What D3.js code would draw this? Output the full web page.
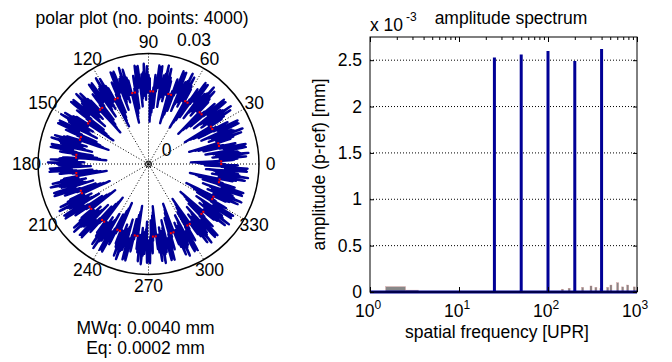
<!DOCTYPE html>
<html>
<head>
<meta charset="utf-8">
<script src="https://cdn.jsdelivr.net/npm/d3@7"></script>
<style>
body { margin: 0; background: #fff; }
svg text { font-family: "Liberation Sans", Arial, sans-serif; fill: #000; }
</style>
</head>
<body>
<div id="chart"></div>
<script>
// spectrum peaks (UPR) and their amplitudes in mm
const peakFreq = [25, 50, 100, 200, 400];
const peakAmp = [0.00253, 0.00256, 0.00260, 0.00249, 0.00262];
// phases guessed from the shape of the petals in the polar plot
const peakPhase = [0, Math.PI, 2 * Math.PI / 3, 0, Math.PI / 2];

// grey residual bars of the spectrum
const restFreq = [2, 3, 4, 6, 10, 16, 142, 169, 239, 297, 337, 383, 457, 497, 591, 673, 766, 908];
const restAmp = [0.000057, 0.00002, 0.000004, 0.000003, 0.000006, 0.000007, 0.00003, 0.00004, 0.00005,
    0.000065, 0.00005, 0.00004, 0.00005, 0.000075, 0.0001, 0.000055, 0.000075, 0.000055];

const yTicks = [0, 0.0005, 0.001, 0.0015, 0.002, 0.0025];
const xTicks = [1, 10, 100, 1000];
const angleTicks = [0, 30, 60, 90, 120, 150, 180, 210, 240, 270, 300, 330];
const ringTicks = [0, 0.03];

const nPoints = 4000;
const radiusMin = 0.0115, radiusMax = 0.0273;   // band limits
const gapAngle = 1;                              // degrees, first gap between petals
const mwq = "0.0040", eq = "0.0002";

const blue = "#000096";
const fontSize = 17.5;

const svg = d3.select("#chart").append("svg")
    .attr("width", 672)
    .attr("height", 362);

// ---------------- polar plot ----------------
const cx = 148.5, cy = 164, R = 110.5;
const r = d3.scaleLinear().domain([0, ringTicks[ringTicks.length - 1]]).range([0, R]);
const polar = svg.append("g").attr("transform", `translate(${cx},${cy})`);

svg.append("text")
    .attr("x", 142).attr("y", 24)
    .attr("text-anchor", "middle")
    .style("font-size", fontSize + "px")
    .text(`polar plot (no. points: ${nPoints})`);

// spokes
angleTicks.filter(a => a < 180).forEach(a => {
    const t = a * Math.PI / 180;
    polar.append("line")
        .attr("x1", r(0.03) * Math.cos(t)).attr("y1", -r(0.03) * Math.sin(t))
        .attr("x2", -r(0.03) * Math.cos(t)).attr("y2", r(0.03) * Math.sin(t))
        .attr("stroke", "#000").attr("stroke-width", 1)
        .attr("stroke-dasharray", "1,2");
});

polar.append("circle")
    .attr("r", r(0.03))
    .attr("fill", "none").attr("stroke", "#000").attr("stroke-width", 1.5);

// signal rebuilt from the spectrum peaks
const theta = d3.range(nPoints).map(i => 2 * Math.PI * i / nPoints);
const raw = theta.map(t => d3.sum(peakFreq, (f, k) => peakAmp[k] * Math.cos(f * t + peakPhase[k])));
const per = nPoints / peakFreq[0];
const half = Math.round(nPoints / peakFreq[3] / 2);
const upper = i => d3.max(d3.range(i - half, i + half + 1), j => raw[(j + nPoints) % nPoints]);
const gapIdx = d3.minIndex(d3.range(per), i => upper(i));
const rot = gapAngle * Math.PI / 180 - theta[gapIdx];
const rad = d3.scaleLinear().domain(d3.extent(raw)).range([radiusMin, radiusMax]);
const tipR = rad(upper(gapIdx));

const line = d3.lineRadial()
    .curve(d3.curveLinearClosed)
    .angle((d, i) => Math.PI / 2 - (theta[i] + rot))
    .radius(d => r(rad(d)));

polar.append("path")
    .datum(raw)
    .attr("d", line)
    .attr("fill", "none")
    .attr("stroke", blue)
    .attr("stroke-width", 2.3)
    .attr("stroke-linejoin", "round");

// red marks at the gap tips
const marks = [];
d3.range(peakFreq[0]).forEach(k => {
    [-1.1, 1.1].forEach(off => {
        marks.push(theta[gapIdx] + rot + k * 2 * Math.PI / peakFreq[0] + off * Math.PI / 180);
    });
});
polar.selectAll("rect.mark")
    .data(marks)
    .enter()
    .append("rect")
    .attr("class", "mark")
    .attr("x", d => r(tipR) * Math.cos(d) - 1)
    .attr("y", d => -r(tipR) * Math.sin(d) - 1)
    .attr("width", 2).attr("height", 2)
    .attr("fill", "#ff0000");

// centre ring
polar.append("circle").attr("r", 3).attr("fill", "none").attr("stroke", "#000").attr("stroke-width", 1);
polar.append("circle").attr("r", 1).attr("fill", "#000");

// angle labels
polar.selectAll("text.ang")
    .data(angleTicks)
    .enter()
    .append("text")
    .attr("class", "ang")
    .attr("x", d => (R + 11.5) * Math.cos(d * Math.PI / 180))
    .attr("y", d => -(R + 11.5) * Math.sin(d * Math.PI / 180))
    .attr("dy", "0.36em")
    .attr("text-anchor", "middle")
    .style("font-size", fontSize + "px")
    .text(d => d);

// ring labels
polar.append("text")
    .attr("x", 18).attr("y", -8.5)
    .attr("text-anchor", "middle")
    .style("font-size", fontSize + "px")
    .text(ringTicks[0]);
polar.append("text")
    .attr("x", 28.5).attr("y", -118)
    .style("font-size", fontSize + "px")
    .text(ringTicks[1]);

svg.append("text")
    .attr("x", 145.5).attr("y", 334)
    .attr("text-anchor", "middle")
    .style("font-size", fontSize + "px")
    .text(`MWq: ${mwq} mm`);
svg.append("text")
    .attr("x", 145.5).attr("y", 354)
    .attr("text-anchor", "middle")
    .style("font-size", fontSize + "px")
    .text(`Eq: ${eq} mm`);

// ---------------- amplitude spectrum ----------------
const margin = {left: 370, right: 637, top: 37, bottom: 292};
const x = d3.scaleLog().domain([1, 1000]).range([margin.left, margin.right]);
const y = d3.scaleLinear().domain([0, 0.00275]).range([margin.bottom, margin.top]);

svg.append("text")
    .attr("x", 511).attr("y", 24)
    .attr("text-anchor", "middle")
    .style("font-size", fontSize + "px")
    .text("amplitude spectrum");

// grid
svg.append("g")
    .selectAll("line")
    .data(yTicks.slice(1))
    .enter()
    .append("line")
    .attr("x1", margin.left).attr("x2", margin.right)
    .attr("y1", d => y(d)).attr("y2", d => y(d))
    .attr("stroke", "#000").attr("stroke-width", 1)
    .attr("stroke-dasharray", "1,2");

// grey bars
svg.append("g")
    .selectAll("rect")
    .data(restFreq)
    .enter()
    .append("rect")
    .attr("x", d => x(d - 0.5))
    .attr("y", (d, i) => y(restAmp[i]))
    .attr("width", d => Math.max(x(d + 0.5) - x(d - 0.5), 2))
    .attr("height", (d, i) => y(0) - y(restAmp[i]))
    .attr("fill", "#888")
    .attr("stroke", "#c87878")
    .attr("stroke-opacity", 0.6)
    .attr("stroke-width", 0.5);

// blue spectrum line
const spec = [[1, 0]];
peakFreq.forEach((f, i) => { spec.push([f, 0], [f, peakAmp[i]], [f, 0]); });
spec.push([1000, 0]);
svg.append("path")
    .datum(spec)
    .attr("d", d3.line().x(d => x(d[0])).y(d => y(d[1])))
    .attr("fill", "none")
    .attr("stroke", blue)
    .attr("stroke-width", 3)
    .attr("stroke-linejoin", "bevel");

// axes
const yAxisL = d3.axisLeft(y).tickValues(yTicks).tickSize(-4).tickPadding(8)
    .tickFormat(d => d3.format("~g")(d * 1000));
svg.append("g")
    .attr("transform", `translate(${margin.left},0)`)
    .call(yAxisL)
    .call(g => g.select(".domain").remove())
    .call(g => g.selectAll("text").style("font-size", fontSize + "px").attr("font-family", null));
svg.append("g")
    .attr("transform", `translate(${margin.right},0)`)
    .call(d3.axisRight(y).tickValues(yTicks).tickSize(-4).tickFormat(""))
    .call(g => g.select(".domain").remove());

const minor = [];
[1, 10, 100].forEach(b => d3.range(2, 10).forEach(m => minor.push(b * m)));
svg.append("g")
    .attr("transform", `translate(0,${margin.top})`)
    .call(d3.axisTop(x).tickValues(minor).tickSize(-3).tickFormat(""))
    .call(g => g.select(".domain").remove());
svg.append("g")
    .attr("transform", `translate(0,${margin.top})`)
    .call(d3.axisTop(x).tickValues(xTicks).tickSize(-5).tickFormat(""))
    .call(g => g.select(".domain").remove());
svg.append("g")
    .attr("transform", `translate(0,${margin.bottom})`)
    .call(d3.axisBottom(x).tickValues(xTicks).tickSize(-5).tickFormat(""))
    .call(g => g.select(".domain").remove());

// box
svg.append("rect")
    .attr("x", margin.left).attr("y", margin.top)
    .attr("width", margin.right - margin.left).attr("height", margin.bottom - margin.top)
    .attr("fill", "none").attr("stroke", "#000").attr("stroke-width", 1);

// x tick labels 10^n
const xl = svg.append("g").selectAll("text")
    .data(xTicks)
    .enter()
    .append("text")
    .attr("x", d => x(d) - 2)
    .attr("y", 317)
    .attr("text-anchor", "middle")
    .style("font-size", fontSize + "px");
xl.append("tspan").text("10");
xl.append("tspan").attr("dy", -8).style("font-size", "12px").text(d => Math.round(Math.log10(d)));

// exponent label
const ex = svg.append("text")
    .attr("x", margin.left).attr("y", 31)
    .style("font-size", fontSize + "px");
ex.append("tspan").text("x 10");
ex.append("tspan").attr("dx", 3).attr("dy", -10).style("font-size", "12px").text("-3");

svg.append("text")
    .attr("x", 497).attr("y", 338)
    .attr("text-anchor", "middle")
    .style("font-size", fontSize + "px")
    .text("spatial frequency [UPR]");

svg.append("text")
    .attr("transform", `translate(325,${(margin.top + margin.bottom) / 2}) rotate(-90)`)
    .attr("text-anchor", "middle")
    .style("font-size", fontSize + "px")
    .text("amplitude (p-ref) [mm]");
</script>
</body>
</html>
